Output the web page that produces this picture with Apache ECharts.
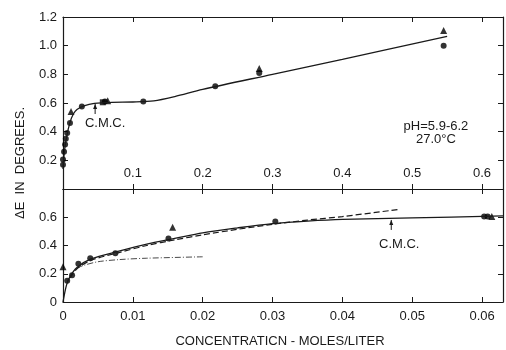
<!DOCTYPE html>
<html lang="en">
<head>
    <meta charset="UTF-8">
    <title>Delta E vs concentration</title>
    <style>
        html, body { margin: 0; padding: 0; background: #fff; }
        #main { width: 506px; height: 350px; }
    </style>
</head>
<body>
<div id="main"></div>
<script src="https://cdn.jsdelivr.net/npm/echarts@6/dist/echarts.min.js"></script>
<script>
    // upper panel (0 - 0.6 M)
    var topCircles = [[0, 0.17], [0, 0.205], [0.0015, 0.26], [0.003, 0.31], [0.004, 0.35], [0.006, 0.39],
        [0.01, 0.46], [0.027, 0.576], [0.06, 0.61], [0.115, 0.61], [0.218, 0.716], [0.281, 0.81], [0.545, 1.0]];
    var topTriangles = [[0.0115, 0.54], [0.064, 0.615], [0.281, 0.84], [0.545, 1.105]];
    var topSquares = [[0.057, 0.605]];
    var topCurve = [[0, 0.14], [0.002, 0.26], [0.005, 0.36], [0.01, 0.465], [0.015, 0.525], [0.02, 0.555],
        [0.03, 0.58], [0.045, 0.597], [0.07, 0.605], [0.1, 0.607], [0.13, 0.615], [0.16, 0.645],
        [0.2, 0.695], [0.3, 0.8], [0.4, 0.905], [0.55, 1.065]];

    // lower panel (0 - 0.06 M)
    var lowCircles = [[0.0006, 0.15], [0.0013, 0.19], [0.0022, 0.27], [0.0039, 0.31], [0.0075, 0.345],
        [0.0151, 0.45], [0.0304, 0.57], [0.0603, 0.605], [0.0608, 0.605]];
    var lowTriangles = [[0, 0.25], [0.0157, 0.53], [0.0614, 0.605]];
    var lowSolid = [[0, 0], [0.0005, 0.12], [0.001, 0.18], [0.002, 0.245], [0.004, 0.305], [0.008, 0.36],
        [0.012, 0.41], [0.016, 0.45], [0.02, 0.49], [0.025, 0.525], [0.03, 0.555], [0.035, 0.573],
        [0.04, 0.585], [0.05, 0.595], [0.063, 0.61]];
    var lowDashed = [[0.001, 0.17], [0.002, 0.235], [0.004, 0.295], [0.008, 0.35], [0.012, 0.4],
        [0.016, 0.44], [0.02, 0.475], [0.025, 0.515], [0.03, 0.55], [0.035, 0.58], [0.04, 0.605], [0.048, 0.655]];
    var lowDashDot = [[0.002, 0.24], [0.003, 0.26], [0.005, 0.285], [0.008, 0.3], [0.012, 0.31], [0.02, 0.32]];

    var cmcTop = 0.046;
    var cmcLow = 0.047;

    var FONT = 'Liberation Sans';
    var INK = '#1a1a1a';

    function axisX(grid, pos, max, step, labels, fmt) {
        return {
            type: 'value', gridIndex: grid, position: pos, min: 0, max: max, interval: step,
            axisLine: {show: true, onZero: false, lineStyle: {color: INK, width: 1.2}},
            axisTick: {show: true, inside: true, length: 5, lineStyle: {color: INK}},
            axisLabel: {show: labels, inside: grid === 0, margin: grid === 0 ? 9 : 8,
                color: INK, fontFamily: FONT, fontSize: 13, formatter: fmt,
                showMaxLabel: false, showMinLabel: grid === 1},
            splitLine: {show: false}
        };
    }
    function axisY(grid, pos, max, labels, fmt) {
        return {
            type: 'value', gridIndex: grid, position: pos, min: 0, max: max, interval: 0.2,
            axisLine: {show: true, onZero: false, lineStyle: {color: INK, width: 1.2}},
            axisTick: {show: true, inside: true, length: 5, lineStyle: {color: INK}},
            axisLabel: {show: labels, margin: 6, color: INK, fontFamily: FONT, fontSize: 13, formatter: fmt},
            splitLine: {show: false}
        };
    }
    function line(xi, yi, data, type, width) {
        return {type: 'line', xAxisIndex: xi, yAxisIndex: yi, data: data, smooth: 0.3,
            showSymbol: false, silent: true, lineStyle: {color: INK, width: width, type: type}};
    }
    function dots(xi, yi, data, symbol, size) {
        return {type: 'scatter', xAxisIndex: xi, yAxisIndex: yi, data: data, symbol: symbol,
            symbolSize: size, itemStyle: {color: '#000'}};
    }

    var chart = echarts.init(document.getElementById('main'));
    chart.setOption({
        animation: false,
        backgroundColor: '#fff',
        grid: [
            {left: 63, right: 3, top: 17, height: 172},
            {left: 63, right: 3, top: 189, height: 113}
        ],
        xAxis: [
            axisX(0, 'bottom', 0.63, 0.1, true, function (v) { return v > 0.601 || v === 0 ? '' : v.toFixed(1); }),
            axisX(0, 'top', 0.63, 0.1, false),
            axisX(1, 'bottom', 0.063, 0.01, true, function (v) { return v === 0 ? '0' : (v > 0.0601 ? '' : v.toFixed(2)); }),
            axisX(1, 'top', 0.063, 0.01, false)
        ],
        yAxis: [
            axisY(0, 'left', 1.2, true, function (v) { return v === 0 ? '' : v.toFixed(1); }),
            axisY(0, 'right', 1.2, false),
            axisY(1, 'left', 0.8, true, function (v) { return v > 0.7 ? '' : (v === 0 ? '0' : v.toFixed(1)); }),
            axisY(1, 'right', 0.8, false)
        ],
        series: [
            line(0, 0, topCurve, 'solid', 1.3),
            dots(0, 0, topCircles, 'circle', 6),
            dots(0, 0, topTriangles, 'triangle', 7),
            dots(0, 0, topSquares, 'rect', 6),
            line(2, 2, lowSolid, 'solid', 1.3),
            line(2, 2, lowDashed, [6, 3], 1.2),
            line(2, 2, lowDashDot, [6, 2, 1, 2], 0.8),
            dots(2, 2, lowCircles, 'circle', 6),
            dots(2, 2, lowTriangles, 'triangle', 7)
        ]
    });

    // annotations placed from data coordinates
    var p1 = chart.convertToPixel({gridIndex: 0}, [cmcTop, 0.6]);
    var p2 = chart.convertToPixel({gridIndex: 1}, [cmcLow, 0.588]);
    var ph = chart.convertToPixel({gridIndex: 0}, [0.534, 0.44]);
    var txt = {fill: INK, fontFamily: FONT, fontSize: 13, align: 'center', verticalAlign: 'middle'};
    function arrow(p) {
        return [
            {type: 'line', shape: {x1: p[0], y1: p[1] + 1, x2: p[0], y2: p[1] + 11}, style: {stroke: INK, lineWidth: 1}},
            {type: 'polygon', shape: {points: [[p[0], p[1] + 1], [p[0] - 2, p[1] + 6], [p[0] + 2, p[1] + 6]]}, style: {fill: INK}}
        ];
    }
    chart.setOption({
        graphic: [].concat(arrow(p1), arrow(p2), [
            {type: 'text', x: p1[0] + 10, y: p1[1] + 20, style: Object.assign({text: 'C.M.C.'}, txt)},
            {type: 'text', x: p2[0] + 8, y: p2[1] + 25, style: Object.assign({text: 'C.M.C.'}, txt)},
            {type: 'text', x: ph[0], y: ph[1], style: Object.assign({text: 'pH=5.9-6.2'}, txt)},
            {type: 'text', x: ph[0], y: ph[1] + 13, style: Object.assign({text: '27.0°C'}, txt)},
            {type: 'text', x: 20, y: 163, rotation: Math.PI / 2,
                style: Object.assign({text: 'ΔE  IN  DEGREES.'}, txt)},
            {type: 'text', x: 280, y: 341, style: Object.assign({text: 'CONCENTRATICN - MOLES/LITER'}, txt)}
        ])
    });
</script>
</body>
</html>
